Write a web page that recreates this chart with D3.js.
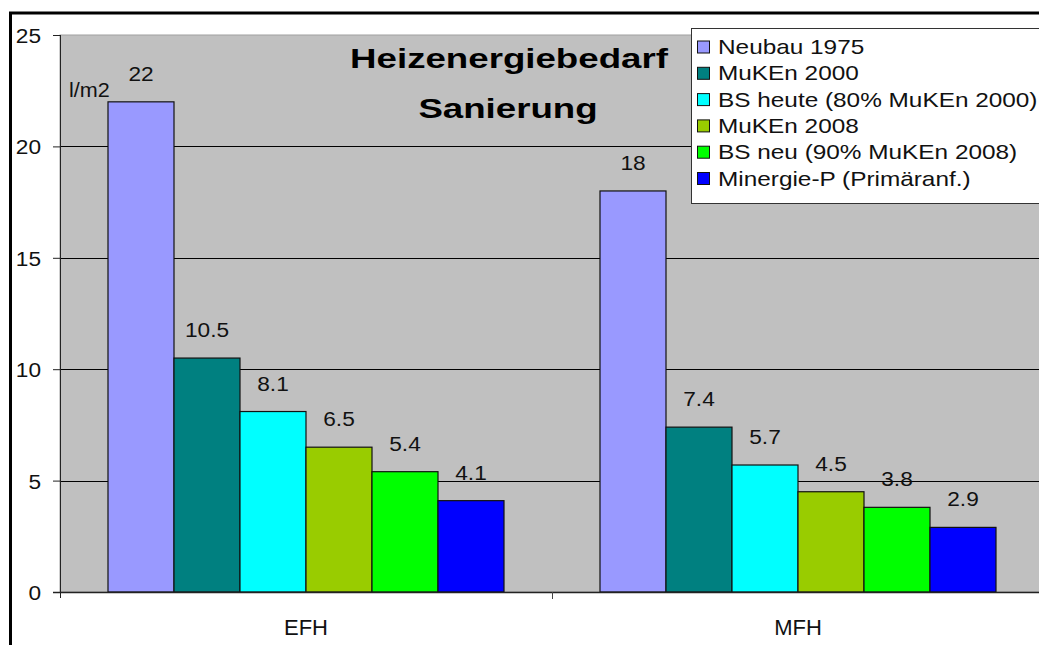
<!DOCTYPE html>
<html><head><meta charset="utf-8">
<script src="https://cdn.jsdelivr.net/npm/d3@7"></script>
<style>body{margin:0;background:#fff}svg{display:block}text{font-family:"Liberation Sans",Arial,sans-serif}</style>
</head><body>
<svg id="c" width="1039" height="645"></svg>
<script>
const categories = ["EFH", "MFH"];
const seriesNames = ["Neubau 1975", "MuKEn 2000", "BS heute (80% MuKEn 2000)", "MuKEn 2008", "BS neu (90% MuKEn 2008)", "Minergie-P (Primäranf.)"];
const seriesColors = ["#9999ff", "#008080", "#00ffff", "#99cc00", "#00ff00", "#0000ff"];
const efhValues = [22, 10.5, 8.1, 6.5, 5.4, 4.1];
const mfhValues = [18, 7.4, 5.7, 4.5, 3.8, 2.9];
const yTicks = [0, 5, 10, 15, 20, 25];
const valueTable = [efhValues, mfhValues];

const svg = d3.select("#c");
const L = 60, R = 1044, T = 35, B = 592;
const x0 = d3.scaleBand().domain(categories).range([L, R]);
const x1 = d3.scaleBand().domain(seriesNames).range([48, x0.bandwidth() - 48]);
const y = d3.scaleLinear().domain([0, 25]).range([B, T]);

// outer frame
svg.append("line").attr("x1", 9).attr("x2", 1039).attr("y1", 13).attr("y2", 13).attr("stroke", "#000").attr("stroke-width", 3);
svg.append("line").attr("x1", 10.5).attr("x2", 10.5).attr("y1", 12).attr("y2", 645).attr("stroke", "#000").attr("stroke-width", 3);

// plot area
svg.append("rect").attr("x", L).attr("y", T).attr("width", R - L).attr("height", B - T).attr("fill", "#c0c0c0").attr("stroke", "#a0a0a0").attr("stroke-width", 1);

// gridlines
svg.append("g").selectAll("line").data(yTicks.filter(d => d > 0 && d < 25)).join("line")
  .attr("x1", L).attr("x2", R).attr("y1", d => Math.round(y(d)) + 0.5).attr("y2", d => Math.round(y(d)) + 0.5)
  .attr("stroke", "#000").attr("stroke-width", 1);

// bars
const groups = svg.append("g").selectAll("g").data(categories).join("g")
  .attr("transform", d => `translate(${x0(d)},0)`);
groups.selectAll("rect").data((c, i) => valueTable[i].map((v, j) => ({v, s: seriesNames[j], j}))).join("rect")
  .attr("x", d => x1(d.s)).attr("width", x1.bandwidth())
  .attr("y", d => y(d.v)).attr("height", d => B - y(d.v))
  .attr("fill", d => seriesColors[d.j]).attr("stroke", "#111").attr("stroke-width", 1.2);
groups.selectAll("text").data((c, i) => valueTable[i].map((v, j) => ({v, s: seriesNames[j]}))).join("text")
  .attr("transform", d => `translate(${x1(d.s) + x1.bandwidth() / 2},${y(d.v) - 21}) scale(1.08,1)`)
  .attr("text-anchor", "middle").attr("font-size", 21).attr("fill", "#111")
  .text(d => d.v);

// y axis
const yAxis = svg.append("g").attr("transform", `translate(${L},0)`)
  .call(d3.axisLeft(y).tickValues(yTicks).tickSize(7).tickPadding(0));
yAxis.select(".domain").attr("stroke", "#222").attr("d", `M0.5,${T}V${B + 6}`);
yAxis.selectAll(".tick line").attr("stroke", "#222");
yAxis.selectAll(".tick text").attr("x", null).attr("dy", null).attr("y", 7.5)
  .attr("transform", "translate(-19,0) scale(1.08,1)")
  .attr("font-size", 21).attr("fill", "#111").attr("font-family", "Liberation Sans, Arial, sans-serif");

// x axis
const xAxis = svg.append("g").attr("transform", `translate(0,${B})`);
xAxis.append("line").attr("x1", L - 7).attr("x2", R).attr("y1", 0.5).attr("y2", 0.5).attr("stroke", "#222").attr("stroke-width", 1.5);
xAxis.selectAll("line.tk").data(categories.slice(1)).join("line").attr("class", "tk")
  .attr("x1", d => x0(d) + 0.5).attr("x2", d => x0(d) + 0.5).attr("y1", 0).attr("y2", 7).attr("stroke", "#444");
xAxis.selectAll("text").data(categories).join("text")
  .attr("x", d => x0(d) + x0.bandwidth() / 2).attr("y", 43)
  .attr("text-anchor", "middle").attr("font-size", 22).attr("fill", "#111").text(d => d);

// y unit
svg.append("text").attr("transform", "translate(69,97) scale(1.08,1)").attr("font-size", 20).attr("fill", "#111").text("l/m2");

// title
const title = svg.append("g").attr("font-weight", "bold").attr("font-size", 28).attr("fill", "#000");
title.append("text").attr("text-anchor", "middle").attr("transform", "translate(509,68) scale(1.31,1)").text("Heizenergiebedarf");
title.append("text").attr("text-anchor", "middle").attr("transform", "translate(508,118) scale(1.31,1)").text("Sanierung");

// legend
const lg = svg.append("g");
lg.append("rect").attr("x", 691.5).attr("y", 28.5).attr("width", 360).attr("height", 175).attr("fill", "#fff").attr("stroke", "#333").attr("stroke-width", 1);
const items = lg.selectAll("g").data(seriesNames).join("g")
  .attr("transform", (d, i) => `translate(0,${46.5 + i * 26.3})`);
items.append("rect").attr("x", 697.5).attr("y", -5.5).attr("width", 12).attr("height", 12)
  .attr("fill", (d, i) => seriesColors[i]).attr("stroke", "#111");
items.append("text").attr("transform", "translate(718,7.5) scale(1.16,1)").attr("font-size", 21).attr("fill", "#111").text(d => d);
</script>
</body></html>
